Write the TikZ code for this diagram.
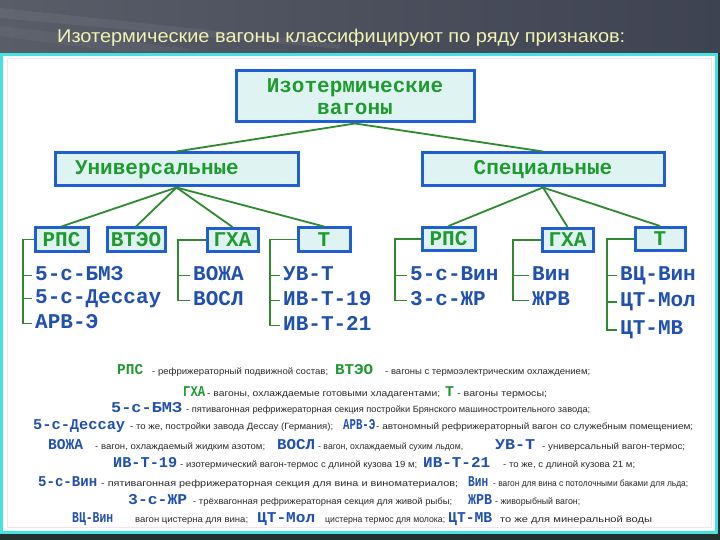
\documentclass[tikz,border=0pt]{standalone}
\usepackage{fontspec}
\usepackage{graphicx}
\setmainfont{Liberation Sans}
\newfontfamily\codefont{Liberation Mono}
\definecolor{bandL}{HTML}{595D68}
\definecolor{bandR}{HTML}{3E4352}
\definecolor{titlecol}{HTML}{F2F2B4}
\definecolor{cyanb}{HTML}{44E2E0}
\definecolor{innerl}{HTML}{F4E4F0}
\definecolor{boxblue}{HTML}{1F5FD0}
\definecolor{boxfill}{HTML}{DFF3F3}
\definecolor{lblgreen}{HTML}{1F9A2F}
\definecolor{itemblue}{HTML}{2050B0}
\definecolor{linegreen}{HTML}{2F8A2F}
\definecolor{legtext}{HTML}{2A2A2A}
\definecolor{darkbot}{HTML}{243030}
\newcommand\fw[2]{\resizebox{#1pt}{\height}{#2}}
\begin{document}
\begin{tikzpicture}[x=1pt,y=-1pt,
  box/.style={draw=boxblue,line width=3pt,fill=boxfill,inner sep=0pt,text=lblgreen,
    font=\codefont\bfseries\fontsize{21}{22}\selectfont},
  conn/.style={draw=linegreen,line width=1.8pt},
  item/.style={anchor=west,inner xsep=3pt,inner ysep=0pt,text=itemblue,
    font=\codefont\bfseries\fontsize{21}{22}\selectfont,text height=13pt,text depth=4pt},
  lt/.style={anchor=base west,inner sep=0pt,text=legtext,font=\fontsize{9}{10}\selectfont},
  cg/.style={anchor=base west,inner sep=0pt,text=lblgreen,
    font=\codefont\bfseries\fontsize{15}{16}\selectfont},
  cb/.style={anchor=base west,inner sep=0pt,text=itemblue,
    font=\codefont\bfseries\fontsize{15}{16}\selectfont}]
\useasboundingbox (0,0) rectangle (720,540);
% background
\fill[darkbot] (0,0) rectangle (720,540);
\shade[left color=bandL,right color=bandR] (0,0) rectangle (720,53);
\fill[white,opacity=0.06] (0,8) -- (340,44) -- (340,49) -- (0,18) -- cycle;
\fill[white,opacity=0.04] (0,26) -- (200,50) -- (120,52) -- (0,36) -- cycle;
\node[anchor=base west,inner sep=0pt,text=titlecol,font=\fontsize{18.5}{20}\selectfont]
  (title) at (57,43) {\fw{568}{Изотермические вагоны классифицируют по ряду признаков:}};
% panel
\fill[white] (0,53) rectangle (718,534);
\draw[cyanb,line width=3pt] (1.5,54.5) rectangle (716.5,532.5);
\draw[innerl,line width=1pt] (7,59) rectangle (711,527);
% boxes
\node[box,minimum width=238,minimum height=51,align=center] (root) at (355,96.5)
  {Изотермические\\вагоны};
\node[box,minimum height=33,text width=203,align=left,inner xsep=20pt] (univ) at (176.5,169.5)
  {Универсальные};
\node[box,minimum width=242,minimum height=33] (spec) at (543,169.5) {Специальные};
\node[box,minimum width=53,minimum height=23] (rpsA) at (61.5,239.5) {РПС};
\node[box,minimum width=58,minimum height=23] (vteo) at (136,239.5) {ВТЭО};
\node[box,minimum width=51,minimum height=23] (ghaA) at (232.5,240) {ГХА};
\node[box,minimum width=52,minimum height=23] (tA) at (324,239.5) {Т};
\node[box,minimum width=53,minimum height=23] (rpsB) at (448.5,239) {РПС};
\node[box,minimum width=51,minimum height=23] (ghaB) at (567.5,240) {ГХА};
\node[box,minimum width=50,minimum height=23] (tB) at (660,239) {Т};
% tree connectors
\draw[conn] (root.south) -- (univ.north);
\draw[conn] (root.south) -- (spec.north);
\foreach \c in {rpsA,vteo,ghaA,tA} \draw[conn] (univ.south) -- (\c.north);
\foreach \c in {rpsB,ghaB,tB} \draw[conn] (spec.south) -- (\c.north);
% items
\node[item] (a1) at (32,275.5) {5-с-БМЗ};
\node[item] (a2) at (32,298.5) {5-с-Дессау};
\node[item] (a3) at (32,323.5) {АРВ-Э};
\node[item] (b1) at (190,275.5) {ВОЖА};
\node[item] (b2) at (190,300.5) {ВОСЛ};
\node[item] (c1) at (280,275.5) {УВ-Т};
\node[item] (c2) at (280,300.5) {ИВ-Т-19};
\node[item] (c3) at (280,325.5) {ИВ-Т-21};
\node[item] (d1) at (407,275.5) {5-с-Вин};
\node[item] (d2) at (407,300.5) {3-с-ЖР};
\node[item] (e1) at (529,275.5) {Вин};
\node[item] (e2) at (529,300.5) {ЖРВ};
\node[item] (f1) at (617,275.5) {ВЦ-Вин};
\node[item] (f2) at (617,302) {ЦТ-Мол};
\node[item] (f3) at (617,330) {ЦТ-МВ};
% brackets
\coordinate (vA) at (23,0);
\coordinate (vB) at (178,0);
\coordinate (vC) at (270,0);
\coordinate (vD) at (395,0);
\coordinate (vE) at (513,0);
\coordinate (vF) at (607,0);
\draw[conn] (rpsA.west) -- (vA |- rpsA.west) -- (vA |- a3.west) -- (a3.west);
\draw[conn] (vA |- a1.west) -- (a1.west);
\draw[conn] (vA |- a2.west) -- (a2.west);
\draw[conn] (ghaA.west) -- (vB |- ghaA.west) -- (vB |- b2.west) -- (b2.west);
\draw[conn] (vB |- b1.west) -- (b1.west);
\draw[conn] (tA.west) -- (vC |- tA.west) -- (vC |- c3.west) -- (c3.west);
\draw[conn] (vC |- c1.west) -- (c1.west);
\draw[conn] (vC |- c2.west) -- (c2.west);
\draw[conn] (rpsB.west) -- (vD |- rpsB.west) -- (vD |- d2.west) -- (d2.west);
\draw[conn] (vD |- d1.west) -- (d1.west);
\draw[conn] (ghaB.west) -- (vE |- ghaB.west) -- (vE |- e2.west) -- (e2.west);
\draw[conn] (vE |- e1.west) -- (e1.west);
\draw[conn] (tB.west) -- (vF |- tB.west) -- (vF |- f3.west) -- (f3.west);
\draw[conn] (vF |- f1.west) -- (f1.west);
\draw[conn] (vF |- f2.west) -- (f2.west);
% legend
\node[cg] (k1a) at (117,374) {\fw{26}{РПС}};
\node[lt] (k1b) at (152,374) {\fw{176}{- рефрижераторный подвижной состав;}};
\node[cg] (k1c) at (335,374) {\fw{38}{ВТЭО}};
\node[lt] (k1d) at (385,374) {\fw{205}{- вагоны с термоэлектрическим охлаждением;}};
\node[cg] (k2a) at (183,396) {\fw{22}{ГХА}};
\node[lt] (k2b) at (207,396) {\fw{233}{- вагоны, охлаждаемые готовыми хладагентами;}};
\node[cg] (k2c) at (445,396) {Т};
\node[lt] (k2d) at (457,396) {\fw{90}{- вагоны термосы;}};
\node[cb] (k3a) at (111,412) {\fw{71}{5-с-БМЗ}};
\node[lt] (k3b) at (186,412) {\fw{404}{- пятивагонная рефрижераторная секция постройки Брянского машиностроительного завода;}};
\node[cb] (k4a) at (33,429) {\fw{92}{5-с-Дессау}};
\node[lt] (k4b) at (130,429) {\fw{203}{- то же, постройки завода Дессау (Германия);}};
\node[cb] (k4c) at (343,429) {\fw{32}{АРВ-Э}};
\node[lt] (k4d) at (376,429) {\fw{317}{- автономный рефрижераторный вагон со служебным помещением;}};
\node[cb] (k5a) at (48,449) {\fw{35}{ВОЖА}};
\node[lt] (k5b) at (95,449) {\fw{170}{- вагон, охлаждаемый жидким азотом;}};
\node[cb] (k5c) at (277,449) {\fw{38}{ВОСЛ}};
\node[lt] (k5d) at (318,449) {\fw{145}{- вагон, охлаждаемый сухим льдом,}};
\node[cb] (k5e) at (495,449) {\fw{40}{УВ-Т}};
\node[lt] (k5f) at (542,449) {\fw{143}{- универсальный вагон-термос;}};
\node[cb] (k6a) at (113,467) {\fw{64}{ИВ-Т-19}};
\node[lt] (k6b) at (180,467) {\fw{237}{- изотермический вагон-термос с длиной кузова 19 м;}};
\node[cb] (k6c) at (423,467) {\fw{67}{ИВ-Т-21}};
\node[lt] (k6d) at (503,467) {\fw{132}{- то же, с длиной кузова 21 м;}};
\node[cb] (k7a) at (38,486) {\fw{59}{5-с-Вин}};
\node[lt] (k7b) at (101,486) {\fw{357}{- пятивагонная рефрижераторная секция для вина и виноматериалов;}};
\node[cb] (k7c) at (468,486) {\fw{20}{Вин}};
\node[lt] (k7d) at (493,486) {\fw{195}{- вагон для вина с потолочными баками для льда;}};
\node[cb] (k8a) at (128,504) {\fw{59}{3-с-ЖР}};
\node[lt] (k8b) at (193,504) {\fw{259}{- трёхвагонная рефрижераторная секция для живой рыбы;}};
\node[cb] (k8c) at (468,504) {\fw{24}{ЖРВ}};
\node[lt] (k8d) at (495,504) {\fw{85}{- живорыбный вагон;}};
\node[cb] (k9a) at (72,522) {\fw{41}{ВЦ-Вин}};
\node[lt] (k9b) at (135,522) {\fw{113}{вагон цистерна для вина;}};
\node[cb] (k9c) at (257,522) {\fw{58}{ЦТ-Мол}};
\node[lt] (k9d) at (325,522) {\fw{120}{цистерна термос для молока;}};
\node[cb] (k9e) at (448,522) {\fw{44}{ЦТ-МВ}};
\node[lt] (k9f) at (500,522) {\fw{152}{то же для минеральной воды}};
\end{tikzpicture}
\end{document}
